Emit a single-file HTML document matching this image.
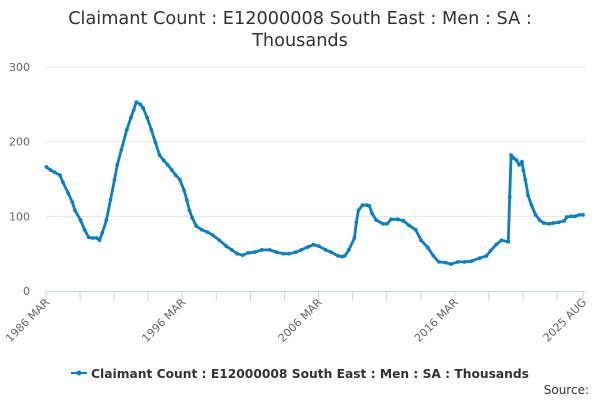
<!DOCTYPE html>
<html><head><meta charset="utf-8"><style>
body{margin:0;background:#fff;font-family:"Liberation Sans","DejaVu Sans",sans-serif}
svg text{font-family:"DejaVu Sans","Liberation Sans",sans-serif}
</style></head><body>
<svg id="chart" width="600" height="400" viewBox="0 0 600 400">
<text x="300" y="24" text-anchor="middle" font-size="17.7" fill="#333">Claimant Count : E12000008 South East : Men : SA :</text>
<text x="300" y="46" text-anchor="middle" font-size="17.7" fill="#333">Thousands</text>
<g id="grid"></g><g id="xaxis"></g><g id="series"></g>
<g>
<line x1="71" y1="373" x2="87" y2="373" stroke="#0a7fc4" stroke-width="2"/>
<circle cx="79" cy="373" r="2.5" fill="#0a7fc4"/>
<text x="91" y="378" font-size="12.2" font-weight="bold" fill="#333" textLength="438" lengthAdjust="spacingAndGlyphs">Claimant Count : E12000008 South East : Men : SA : Thousands</text>
</g>
<text x="589" y="394" text-anchor="end" font-size="12" fill="#333">Source:</text>
</svg>
<script>
const yTicks=[0,100,200,300];
const xTickLabels=["1986 MAR","1996 MAR","2006 MAR","2016 MAR","2025 AUG"];
const xTickYears=[1986.17,1996.17,2006.17,2016.17,2025.58];
const dates=[1986.2,1986.5,1986.8,1987.2,1987.4,1987.8,1988.1,1988.3,1988.7,1989.0,1989.3,1989.6,1989.9,1990.1,1990.3,1990.6,1990.9,1991.2,1991.4,1991.7,1992.1,1992.4,1992.6,1992.8,1993.1,1993.3,1993.6,1993.9,1994.2,1994.5,1994.8,1995.1,1995.4,1995.7,1996.0,1996.3,1996.5,1996.7,1996.9,1997.2,1997.6,1998.0,1998.4,1998.9,1999.4,1999.8,2000.2,2000.6,2001.0,2001.5,2002.0,2002.6,2003.1,2003.6,2004.0,2004.5,2004.9,2005.4,2005.8,2006.2,2006.7,2007.1,2007.6,2007.9,2008.1,2008.4,2008.8,2008.95,2009.1,2009.4,2009.7,2009.9,2010.1,2010.4,2010.9,2011.2,2011.5,2012.0,2012.4,2012.8,2013.3,2013.7,2014.2,2014.6,2015.0,2015.5,2015.9,2016.4,2016.9,2017.4,2018.0,2018.5,2018.8,2019.2,2019.6,2020.1,2020.2,2020.3,2020.5,2020.7,2020.9,2021.1,2021.2,2021.35,2021.55,2021.8,2022.1,2022.4,2022.7,2023.1,2023.4,2023.8,2024.2,2024.4,2024.7,2025.0,2025.3,2025.58];
const values=[166,162,159,155,146,131,119,108,95,82,72,71,71,68,78,95,122,149,169,189,216,232,242,253,250,245,232,216,199,182,175,169,162,155,149,135,122,108,98,87,82,79,75,68,60,55,50,48,51,52,55,55,52,50,50,52,55,59,62,60,55,52,47,46,47,55,71,92,108,115,115,114,104,95,90,90,96,96,94,88,82,68,58,47,39,38,36,39,39,40,44,47,54,62,68,66,126,182,178,175,169,173,162,149,128,115,102,95,91,90,91,92,94,99,100,100,102,102];
const NS="http://www.w3.org/2000/svg";
const X0=46,X1=583,Y0=291,Y300=67;
function xs(t){return X0+(t-1986.17)/(2025.58-1986.17)*(X1-X0);}
function ys(v){return Y0-v/300*(Y0-Y300);}
function mk(tag,attrs,parent){const e=document.createElementNS(NS,tag);for(const k in attrs)e.setAttribute(k,attrs[k]);parent.appendChild(e);return e;}
const grid=document.getElementById('grid');
yTicks.forEach(v=>{
  if(v>0){const l=mk('line',{x1:X0,x2:585,y1:ys(v),y2:ys(v),stroke:'#e6e6e6'},grid);
  
  }
  const t=mk('text',{x:30,y:ys(v)+4,'text-anchor':'end','font-size':11,fill:'#666'},grid);
  t.textContent=v;
  
  
});
const xa=document.getElementById('xaxis');
const ax=mk('line',{x1:X0,x2:585,y1:Y0+0.5,y2:Y0+0.5,stroke:'#ccd6eb'},xa);


for(let t=1986.17;t<=2025.6;t+=2.5){mk('line',{x1:xs(t),x2:xs(t),y1:Y0,y2:Y0+10,stroke:'#ccd6eb'},xa);}
mk('line',{x1:X1,x2:X1,y1:Y0,y2:Y0+10,stroke:'#ccd6eb'},xa);
xTickLabels.forEach((s,i)=>{
  const x=xs(xTickYears[i]);
  const t=mk('text',{x:x+4,y:Y0+12,'text-anchor':'end','font-size':11,fill:'#666',transform:`rotate(-45 ${x+4} ${Y0+12})`},xa);
  t.textContent=s;
  
  
});
const sg=document.getElementById('series');
const pts=dates.map((d,i)=>xs(d).toFixed(1)+','+ys(values[i]).toFixed(1)).join(' ');
const pl=mk('polyline',{points:pts,fill:'none',stroke:'#0a7fc4','stroke-width':2.8,'stroke-linejoin':'round'},sg);


dates.forEach((d,i)=>{
  const c=mk('circle',{cx:xs(d),cy:ys(values[i]),r:1.9,fill:'#0a7fc4'},sg);
  
  
});
</script>
</body></html>
